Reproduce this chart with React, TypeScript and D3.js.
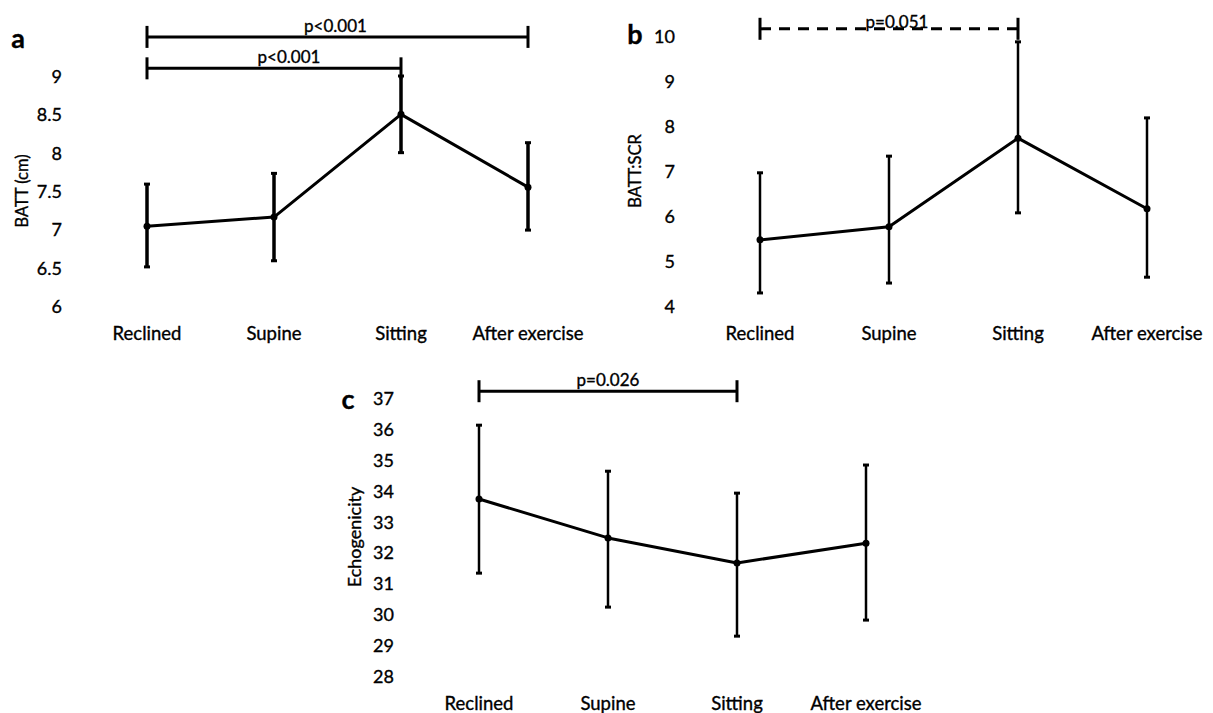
import React, { useEffect, useRef } from "react";
import * as d3 from "d3";

// categories shared by all three panels
const categories = ["Reclined", "Supine", "Sitting", "After exercise"];

// panel a - BATT (cm)
const battMean = [7.04, 7.16, 8.5, 7.55];
const battLow = [6.51, 6.59, 8.0, 6.99];
const battHigh = [7.59, 7.73, 9.0, 8.13];
const battTicks = [6, 6.5, 7, 7.5, 8, 8.5, 9];

// panel b - BATT:SCR
const ratioMean = [5.47, 5.76, 7.73, 6.16];
const ratioLow = [4.29, 4.51, 6.07, 4.64];
const ratioHigh = [6.96, 7.33, 9.87, 8.18];
const ratioTicks = [4, 5, 6, 7, 8, 9, 10];

// panel c - Echogenicity
const echoMean = [33.73, 32.47, 31.66, 32.3];
const echoLow = [31.33, 30.23, 29.29, 29.81];
const echoHigh = [36.12, 34.63, 33.92, 34.83];
const echoTicks = [28, 29, 30, 31, 32, 33, 34, 35, 36, 37];

// significance brackets: from / to category, level in data units
const battBrackets = [
  { from: "Reclined", to: "After exercise", level: 9.51, label: "p<0.001" },
  { from: "Reclined", to: "Sitting", level: 9.1, label: "p<0.001" },
];
const ratioBrackets = [{ from: "Reclined", to: "Sitting", level: 10.16, label: "p=0.051" }];
const echoBrackets = [{ from: "Reclined", to: "Sitting", level: 37.22, label: "p=0.026" }];

const FONT = "Lato, 'Open Sans', sans-serif";

function drawPanel(svg, opts) {
  const { letter, letterPos, xRange, yDomain, yRange, ticks, mean, low, high, brackets, title, titleSize, barWidth, fontSize, labelShift, dashed } = opts;

  const g = svg.append("g");
  const x = d3.scalePoint().domain(categories).range(xRange);
  const y = d3.scaleLinear().domain(yDomain).range(yRange);
  const bottom = yRange[0];
  const top = yRange[1];
  const tickX = xRange[0] - 85;

  // panel letter
  g.append("text")
    .attr("x", letterPos[0])
    .attr("y", letterPos[1])
    .attr("text-anchor", "middle")
    .attr("dominant-baseline", "central")
    .style("font-size", "27px")
    .style("font-weight", "bold")
    .text(letter);

  // y tick labels (no axis line in the original)
  g.selectAll("text.ytick")
    .data(ticks)
    .enter()
    .append("text")
    .attr("class", "ytick")
    .attr("x", tickX)
    .attr("y", (d) => y(d))
    .attr("text-anchor", "end")
    .attr("dominant-baseline", "central")
    .style("font-size", fontSize + "px")
    .text((d) => d);

  // y title
  g.append("text")
    .attr("transform", `translate(${tickX - 40},${(top + bottom) / 2}) rotate(-90)`)
    .attr("text-anchor", "middle")
    .attr("dominant-baseline", "central")
    .style("font-size", titleSize + "px")
    .text(title);

  // x labels
  g.selectAll("text.xlab")
    .data(categories)
    .enter()
    .append("text")
    .attr("class", "xlab")
    .attr("x", (d) => x(d))
    .attr("y", bottom + 27)
    .attr("text-anchor", "middle")
    .attr("dominant-baseline", "central")
    .style("font-size", "18.5px")
    .text((d) => d);

  // error bars
  const bars = g.selectAll("g.err").data(categories).enter().append("g").attr("class", "err");
  bars.append("line")
    .attr("x1", (d) => x(d))
    .attr("x2", (d) => x(d))
    .attr("y1", (d, i) => y(low[i]))
    .attr("y2", (d, i) => y(high[i]))
    .attr("stroke", "#000")
    .attr("stroke-width", barWidth);
  [low, high].forEach((arr) => {
    bars.append("line")
      .attr("x1", (d) => x(d) - 3)
      .attr("x2", (d) => x(d) + 3)
      .attr("y1", (d, i) => y(arr[i]))
      .attr("y2", (d, i) => y(arr[i]))
      .attr("stroke", "#000")
      .attr("stroke-width", 3);
  });

  // mean line
  const line = d3.line()
    .x((d, i) => x(categories[i]))
    .y((d) => y(d));
  g.append("path")
    .datum(mean)
    .attr("fill", "none")
    .attr("stroke", "#000")
    .attr("stroke-width", 3)
    .attr("stroke-linejoin", "round")
    .attr("d", line);

  g.selectAll("circle")
    .data(mean)
    .enter()
    .append("circle")
    .attr("cx", (d, i) => x(categories[i]))
    .attr("cy", (d) => y(d))
    .attr("r", 3.5)
    .attr("fill", "#000");

  // significance brackets
  brackets.forEach((b, k) => {
    const x1 = x(b.from);
    const x2 = x(b.to);
    const by = y(b.level);
    const bg = g.append("g");
    bg.append("line")
      .attr("x1", x1)
      .attr("x2", x2)
      .attr("y1", by)
      .attr("y2", by)
      .attr("stroke", "#000")
      .attr("stroke-width", 3)
      .attr("stroke-dasharray", dashed ? "11,8" : null);
    [x1, x2].forEach((bx) => {
      bg.append("line")
        .attr("x1", bx)
        .attr("x2", bx)
        .attr("y1", by - 11)
        .attr("y2", by + 11)
        .attr("stroke", "#000")
        .attr("stroke-width", 3);
    });
    bg.append("text")
      .attr("x", (x1 + x2) / 2 + labelShift[k])
      .attr("y", by - (dashed ? 1 : 5))
      .attr("text-anchor", "middle")
      .style("font-size", "17px")
      .text(b.label);
  });

  // slightly heavier text, like the scanned original
  g.selectAll("text").attr("stroke", "#000").attr("stroke-width", 0.35);
}

export default function App() {
  const ref = useRef(null);

  useEffect(() => {
    const svg = d3.select(ref.current);
    svg.selectAll("*").remove();

    drawPanel(svg, {
      letter: "a",
      letterPos: [18, 37],
      xRange: [147, 528],
      yDomain: [6, 9],
      yRange: [306, 76],
      ticks: battTicks,
      mean: battMean,
      low: battLow,
      high: battHigh,
      brackets: battBrackets,
      title: "BATT (cm)",
      titleSize: 16.5,
      barWidth: 3.5,
      fontSize: 18,
      labelShift: [-2, 15],
      dashed: false,
    });

    drawPanel(svg, {
      letter: "b",
      letterPos: [635, 33],
      xRange: [760, 1147],
      yDomain: [4, 10],
      yRange: [306, 36],
      ticks: ratioTicks,
      mean: ratioMean,
      low: ratioLow,
      high: ratioHigh,
      brackets: ratioBrackets,
      title: "BATT:SCR",
      titleSize: 16.5,
      barWidth: 2.5,
      fontSize: 18,
      labelShift: [8],
      dashed: true,
    });

    drawPanel(svg, {
      letter: "c",
      letterPos: [348, 398],
      xRange: [479, 866],
      yDomain: [28, 37],
      yRange: [676, 398],
      ticks: echoTicks,
      mean: echoMean,
      low: echoLow,
      high: echoHigh,
      brackets: echoBrackets,
      title: "Echogenicity",
      titleSize: 18,
      barWidth: 2.5,
      fontSize: 18,
      labelShift: [0],
      dashed: false,
    });
  }, []);

  return (
    <svg
      ref={ref}
      width={1213}
      height={713}
      style={{ position: "absolute", left: 0, top: 0, background: "#fff", fontFamily: FONT }}
    />
  );
}
